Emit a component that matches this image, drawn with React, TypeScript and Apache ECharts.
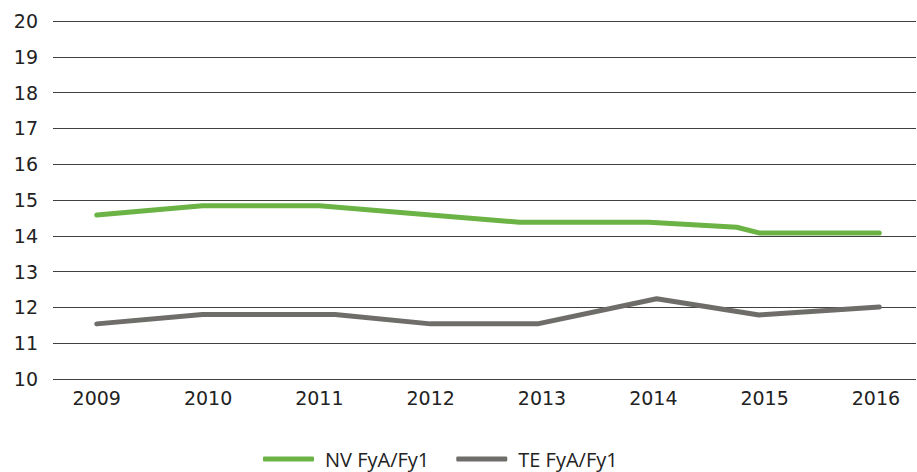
import React, { useEffect, useRef } from "react";
import * as echarts from "echarts";

const yearTicks = [2009, 2010, 2011, 2012, 2013, 2014, 2015, 2016];
const nvYears = [2009, 2009.95, 2011.0, 2012.0, 2012.8, 2013.96, 2014.75, 2014.95, 2016.03];
const nvValues = [14.58, 14.84, 14.84, 14.58, 14.38, 14.38, 14.24, 14.08, 14.08];
const teYears = [2009, 2009.95, 2011.14, 2012.0, 2012.96, 2014.03, 2014.95, 2016.03];
const teValues = [11.54, 11.8, 11.8, 11.54, 11.54, 12.24, 11.79, 12.01];
const seriesNames = ["NV FyA/Fy1", "TE FyA/Fy1"];

export default function App() {
  const ref = useRef<HTMLDivElement>(null);
  useEffect(() => {
    if (!ref.current) return;
    const chart = echarts.init(ref.current, null, { renderer: "svg" });
    chart.setOption({
      animation: false,
      grid: { left: 53, right: 1, top: 21, bottom: 93, containLabel: false },
      legend: {
        top: 449,
        left: 263,
        icon: "roundRect",
        itemWidth: 51,
        itemHeight: 5,
        itemGap: 27,
        padding: 0,
        textStyle: { fontFamily: "Open Sans", fontSize: 20, color: "#222", padding: [0, 0, 0, 6] },
        data: seriesNames,
      },
      xAxis: {
        type: "value",
        min: 2008.607,
        max: 2016.36,
        axisLine: { show: false },
        axisTick: { show: false },
        splitLine: { show: false },
        axisLabel: {
          customValues: yearTicks,
          formatter: (v: number) => String(Math.round(v)),
          fontFamily: "DejaVu Sans",
          fontSize: 19,
          color: "#222",
          margin: 9,
        },
      },
      yAxis: {
        type: "value",
        min: 10,
        max: 20,
        interval: 1,
        axisLine: { show: false },
        axisTick: { show: false },
        splitLine: { lineStyle: { color: "#404040", width: 1 } },
        axisLabel: {
          fontFamily: "DejaVu Sans",
          fontSize: 19,
          color: "#222",
          margin: 15,
        },
      },
      series: [
        {
          name: seriesNames[0],
          type: "line",
          data: nvYears.map((x, i) => [x, nvValues[i]]),
          showSymbol: false,
          symbol: "none",
          itemStyle: { color: "#6ab344" },
          lineStyle: { color: "#6ab344", width: 5, cap: "round" },
        },
        {
          name: seriesNames[1],
          type: "line",
          data: teYears.map((x, i) => [x, teValues[i]]),
          showSymbol: false,
          symbol: "none",
          itemStyle: { color: "#6e6d69" },
          lineStyle: { color: "#6e6d69", width: 5, cap: "round" },
        },
      ],
    });
    return () => chart.dispose();
  }, []);
  return <div ref={ref} style={{ width: 917, height: 472, position: "absolute", left: 0, top: 0 }} />;
}
